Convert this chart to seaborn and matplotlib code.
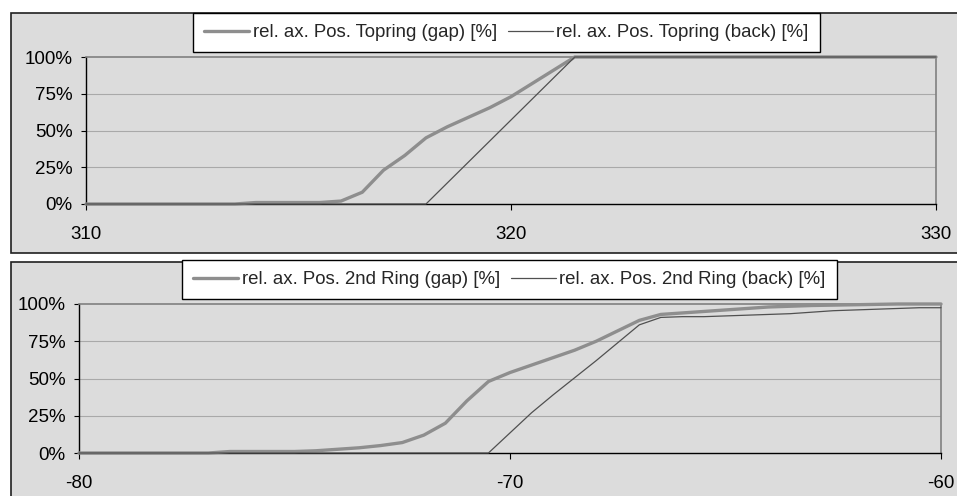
import numpy as np
import pandas as pd
import seaborn as sns
import matplotlib.pyplot as plt
from matplotlib.patches import Rectangle
from matplotlib.ticker import PercentFormatter

# ---------------------------------------------------------
# DADES (llegides del gràfic)
# ---------------------------------------------------------
top_gap_x = [310, 313.5, 314, 315.5, 316, 316.5, 317, 317.5, 318, 318.5, 319, 319.5,
             320, 320.5, 321, 321.5, 330]
top_gap_y = [0, 0, 1, 1, 2, 8, 23, 33, 45, 52.5, 59, 65.5, 73, 82, 91, 100, 100]
top_back_x = [310, 318, 321.5, 330]
top_back_y = [0, 0, 100, 100]

bot_gap_x = [-80, -77, -76.5, -75, -74.5, -74, -73.5, -73, -72.5, -72, -71.5, -71,
             -70.5, -70, -69.5, -69, -68.5, -68, -67.5, -67, -66.5, -66, -65.5, -65,
             -64.5, -64, -63.5, -63, -62, -61, -60]
bot_gap_y = [0, 0, 1, 1, 1.5, 2.5, 3.5, 5, 7, 12, 20, 35,
             48, 54, 59, 64, 69, 75, 82, 89, 93, 94, 95, 96,
             97, 98, 98.5, 99, 99.5, 100, 100]
bot_back_x = [-80, -70.5, -69.5, -69, -68.5, -68, -67.5, -67, -66.5, -66, -65.5, -65,
              -64.5, -64, -63.5, -63, -62.5, -62, -61.5, -61, -60.5, -60]
bot_back_y = [0, 0, 27, 39, 50.5, 62, 74, 86, 91, 91.5, 91.5, 92,
              92.5, 93, 93.5, 94.5, 95.5, 96, 96.5, 97, 97.5, 97.5]

top_labels = ["rel. ax. Pos. Topring (gap) [%]", "rel. ax. Pos. Topring (back) [%]"]
bot_labels = ["rel. ax. Pos. 2nd Ring (gap) [%]", "rel. ax. Pos. 2nd Ring (back) [%]"]
top_xticks = [310, 320, 330]
bot_xticks = [-80, -70, -60]

# ---------------------------------------------------------
# ESTIL
# ---------------------------------------------------------
sns.set_theme(style="white")
plt.rcParams['font.family'] = ['Liberation Sans', 'DejaVu Sans']
plt.rcParams['axes.unicode_minus'] = False

C_GAP = '#8e8e8e'
C_BACK = '#505050'
C_PANEL = '#dcdcdc'

fig = plt.figure(figsize=(9.57, 4.96), dpi=100)
fig.patch.set_facecolor('white')

# fons dels dos panells (amb vora negra)
fig.add_artist(Rectangle((11/957, 243/496), 1.0, 240/496,
                         transform=fig.transFigure, facecolor=C_PANEL,
                         edgecolor='#202020', linewidth=1.2, zorder=0))
fig.add_artist(Rectangle((11/957, -0.05), 1.0, 234/496 + 0.05,
                         transform=fig.transFigure, facecolor=C_PANEL,
                         edgecolor='#202020', linewidth=1.2, zorder=0))


def panel(rect, gx, gy, bx, by, labels, xticks, leg_x):
    ax = fig.add_axes(rect)
    ax.set_facecolor('none')
    df_g = pd.DataFrame({'x': gx, 'y': gy})
    df_b = pd.DataFrame({'x': bx, 'y': by})
    sns.lineplot(data=df_g, x='x', y='y', ax=ax, color=C_GAP, linewidth=2.4,
                 sort=False, estimator=None, label=labels[0], clip_on=False, zorder=4)
    sns.lineplot(data=df_b, x='x', y='y', ax=ax, color=C_BACK, linewidth=0.9,
                 sort=False, estimator=None, label=labels[1], clip_on=False, zorder=5)

    ax.set_xlim(xticks[0], xticks[-1])
    ax.set_ylim(0, 100)
    ax.set_xticks(xticks)
    ax.set_yticks([0, 25, 50, 75, 100])
    ax.yaxis.set_major_formatter(PercentFormatter(100, decimals=0))
    for v in [25, 50, 75]:
        ax.axhline(v, color='#a9a9a9', linewidth=0.8, zorder=1)

    ax.set_xlabel("")
    ax.set_ylabel("")
    for s in ['top', 'right']:
        ax.spines[s].set_color('#808080')
        ax.spines[s].set_linewidth(1.2)
    for s in ['left', 'bottom']:
        ax.spines[s].set_color('black')
        ax.spines[s].set_linewidth(1.0)
    ax.tick_params(axis='x', direction='out', length=4.5, width=0.8, color='black',
                   pad=11, labelsize=13.5, labelcolor='black', bottom=True)
    ax.tick_params(axis='y', direction='out', length=3.6, width=0.8, color='black',
                   pad=6, labelsize=13.5, labelcolor='black', left=True)

    leg = ax.legend(loc='upper left', bbox_to_anchor=(leg_x, rect[1] + rect[3] + 0.0885),
                    bbox_transform=fig.transFigure, ncol=2, frameon=True, fancybox=False,
                    framealpha=1, edgecolor='black', fontsize=13.4, handlelength=2.4,
                    handletextpad=0.2, columnspacing=0.6, borderpad=0.6,
                    borderaxespad=0)
    leg.get_frame().set_linewidth(1.0)
    return ax


panel([86/957, 292/496, 850/957, 147/496], top_gap_x, top_gap_y, top_back_x, top_back_y,
      top_labels, top_xticks, 193/957)
panel([79/957, 43/496, 862/957, 149/496], bot_gap_x, bot_gap_y, bot_back_x, bot_back_y,
      bot_labels, bot_xticks, 182/957)

plt.savefig('out.png', dpi=100)
plt.close()
